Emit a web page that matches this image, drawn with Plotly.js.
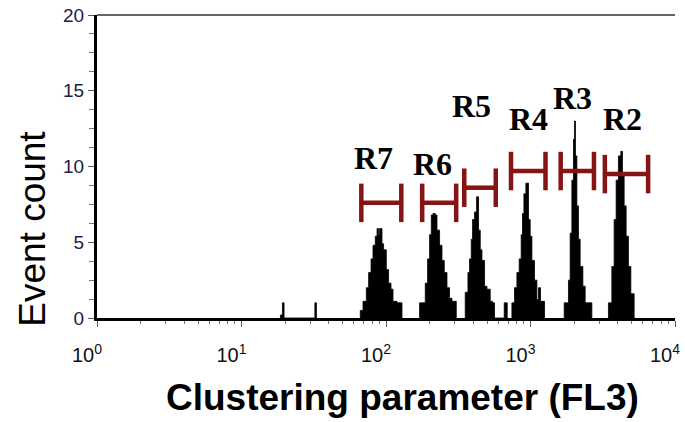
<!DOCTYPE html>
<html>
<head>
<meta charset="utf-8">
<script src="https://cdn.plot.ly/plotly-3.0.1.min.js"></script>
<style>
  html, body { margin: 0; padding: 0; background: #fff; }
  #chart { width: 685px; height: 422px; }
</style>
</head>
<body>
<div id="chart"></div>
<script>
// ---- Histogram data: bin edges on the FL3 scale and event counts per bin ----
// Isolated events below the first population
const strayEdges  = [18.6, 19.2, 19.7, 32.2, 33.0];
const strayCounts = [0.2, 1.0, 0, 1.0];

const r7Edges  = [66.4, 69.3, 73.1, 75.8, 78.8, 81.3, 84.3, 86.7, 88.9, 90.3, 93.8, 96.2, 100.5, 104.2, 108.3, 111.8, 119.2, 129.0];
const r7Counts = [0.5, 1.1, 2.0, 3.0, 3.9, 4.8, 5.4, 5.9, 5.5, 5.9, 4.9, 4.5, 3.2, 2.3, 1.9, 1.1, 1.0];

const r6Edges  = [170.8, 187.0, 194.0, 200.3, 205.8, 211.3, 219.2, 225.3, 234.8, 244.0, 253.1, 264.2, 275.4, 286.1, 306.4];
const r6Counts = [1.0, 2.3, 3.9, 5.5, 6.8, 6.9, 6.8, 5.8, 4.8, 3.8, 3.0, 2.0, 1.3, 1.1];

const r5Edges  = [353.5, 369.1, 378.6, 389.1, 397.2, 410.1, 423.4, 437.1, 449.0, 461.3, 480.8, 499.5, 526.4, 546.1, 563.7, 657.9, 690.1];
const r5Counts = [1.7, 3.0, 3.9, 5.2, 6.5, 7.0, 8.0, 5.8, 4.5, 3.8, 2.1, 1.9, 1.1, 1.0, 0, 1.0];

const r4Edges  = [743.6, 775.1, 805.2, 835.3, 862.3, 880.4, 900.3, 929.3, 968.7, 995.3, 1022.6, 1065.9, 1107.4, 1135.9, 1172.8, 1249.8];
const r4Counts = [1.0, 2.0, 3.0, 3.9, 5.5, 6.9, 8.2, 8.9, 6.5, 5.4, 3.8, 2.5, 1.2, 2.0, 1.1];

const r3Edges  = [1710.6, 1831.7, 1881.7, 1933.5, 1983.5, 2015.3, 2047.6, 2093.8, 2147.8, 2206.5, 2303.6, 2389.5, 2658.2];
const r3Counts = [1.0, 2.5, 5.6, 9.1, 11.8, 13.0, 10.7, 7.4, 5.2, 3.4, 2.1, 1.0];

const r2Edges  = [3462.6, 3655.3, 3791.6, 3914.8, 4060.8, 4219.0, 4328.2, 4446.4, 4589.9, 4761.0, 4946.5, 5214.3];
const r2Counts = [1.0, 3.4, 6.5, 9.1, 10.7, 11.0, 9.6, 7.4, 5.4, 3.4, 1.6];

// ---- Gate regions R2..R7: lower / upper FL3 bound and the count level they sit at ----
const gateNames = ['R7', 'R6', 'R5', 'R4', 'R3', 'R2'];
const gateLow   = [67.5, 178, 348, 733, 1618, 3270];
const gateHigh  = [127.6, 306, 575, 1270, 2749, 6516];
const gateLevel = [7.6, 7.6, 8.6, 9.7, 9.7, 9.5];

// ---- Axis ticks ----
const xTickVals  = [1, 10, 100, 1000, 10000];
const xTickText  = ['10<sup>0</sup>', '10<sup>1</sup>', '10<sup>2</sup>', '10<sup>3</sup>', '10<sup>4</sup>'];
const yTickVals  = [0, 5, 10, 15, 20];

// ---- Styling ----
const gateColor  = '#861414';
const capHalf    = 1.27;                 // half height of gate end caps (count units)
const labelShift = [[-8, 45], [-7, 39], [-9, 82], [0, 52], [-5, 73], [-4, 55]]; // px offsets of gate names

// Log-scale minor ticks 2..9 in every decade
const xMinorVals = [];
for (let d = 1; d < 10000; d *= 10) {
  for (let k = 2; k <= 9; k++) xMinorVals.push(k * d);
}

// Turn bin edges + counts into a closed step outline
function stepOutline(edges, counts) {
  const x = [edges[0]], y = [0];
  counts.forEach((c, i) => { x.push(edges[i]); y.push(c); });
  x.push(edges[edges.length - 1]); y.push(0);
  return { x, y };
}

const populations = [
  [strayEdges, strayCounts],
  [r7Edges, r7Counts],
  [r6Edges, r6Counts],
  [r5Edges, r5Counts],
  [r4Edges, r4Counts],
  [r3Edges, r3Counts],
  [r2Edges, r2Counts]
];

const traces = populations.map(([e, c]) => {
  const s = stepOutline(e, c);
  return {
    type: 'scatter', mode: 'lines',
    x: s.x, y: s.y,
    line: { shape: 'hv', color: '#000', width: 0.8 },
    fill: 'tozeroy', fillcolor: '#000',
    hoverinfo: 'skip', showlegend: false
  };
});

// Gate markers: |----| at each region's level
const gx = [], gy = [];
gateNames.forEach((_, i) => {
  const lo = gateLow[i], hi = gateHigh[i], lv = gateLevel[i];
  gx.push(lo, lo, null, lo, hi, null, hi, hi, null);
  gy.push(lv - capHalf, lv + capHalf, null, lv, lv, null, lv - capHalf, lv + capHalf, null);
});
traces.push({
  type: 'scatter', mode: 'lines', x: gx, y: gy,
  line: { color: gateColor, width: 4.5 },
  connectgaps: false, hoverinfo: 'skip', showlegend: false
});

const annotations = gateNames.map((name, i) => ({
  text: name,
  xref: 'x', yref: 'y',
  x: (Math.log10(gateLow[i]) + Math.log10(gateHigh[i])) / 2,
  y: gateLevel[i],
  xshift: labelShift[i][0], yshift: labelShift[i][1],
  showarrow: false, xanchor: 'center', yanchor: 'middle',
  font: { family: 'Liberation Serif, Times New Roman, serif', size: 32, color: '#000', weight: 'bold' }
}));

annotations.push({
  text: 'Event count',
  xref: 'paper', yref: 'paper', x: -0.111, y: 0.294,
  textangle: -90, showarrow: false, xanchor: 'center', yanchor: 'middle',
  font: { family: 'Liberation Sans, Arial, sans-serif', size: 37, color: '#000' }
});
annotations.push({
  text: '<b>Clustering parameter (FL3)</b>',
  xref: 'paper', yref: 'paper', x: 0.528, y: -0.262,
  showarrow: false, xanchor: 'center', yanchor: 'middle',
  font: { family: 'Liberation Sans, Arial, sans-serif', size: 37, color: '#000' }
});

const layout = {
  width: 685, height: 422,
  margin: { l: 97, r: 10, t: 15, b: 104 },
  paper_bgcolor: '#fff', plot_bgcolor: '#fff',
  showlegend: false,
  xaxis: {
    type: 'log', range: [0, 4],
    showgrid: false, zeroline: false,
    showline: true, linecolor: '#000', linewidth: 3,
    ticks: 'outside', ticklen: 6, tickwidth: 1, tickcolor: '#555',
    tickmode: 'array', tickvals: xTickVals, ticktext: xTickText,
    ticklabelshift: -10, ticklabelstandoff: 11,
    tickfont: { family: 'Liberation Sans, Arial, sans-serif', size: 20, color: '#111' },
    minor: { tickmode: 'array', tickvals: xMinorVals, ticks: 'outside', ticklen: 3, tickwidth: 1, tickcolor: '#777' }
  },
  yaxis: {
    range: [0, 20],
    showgrid: false, zeroline: false,
    showline: true, linecolor: '#000', linewidth: 3,
    ticks: 'outside', ticklen: 6, tickwidth: 1, tickcolor: '#555',
    tickmode: 'array', tickvals: yTickVals,
    tickfont: { family: 'Liberation Sans, Arial, sans-serif', size: 19, color: '#1c1c46' },
    minor: { dtick: 1.25, ticks: 'outside', ticklen: 5, tickwidth: 1, tickcolor: '#777' }
  },
  shapes: [{
    type: 'line', xref: 'paper', yref: 'paper',
    x0: 0, x1: 1, y0: 1, y1: 1,
    line: { color: '#333', width: 1.5 }
  }],
  annotations: annotations
};

Plotly.newPlot('chart', traces, layout, { displayModeBar: false, staticPlot: true });
</script>
</body>
</html>
